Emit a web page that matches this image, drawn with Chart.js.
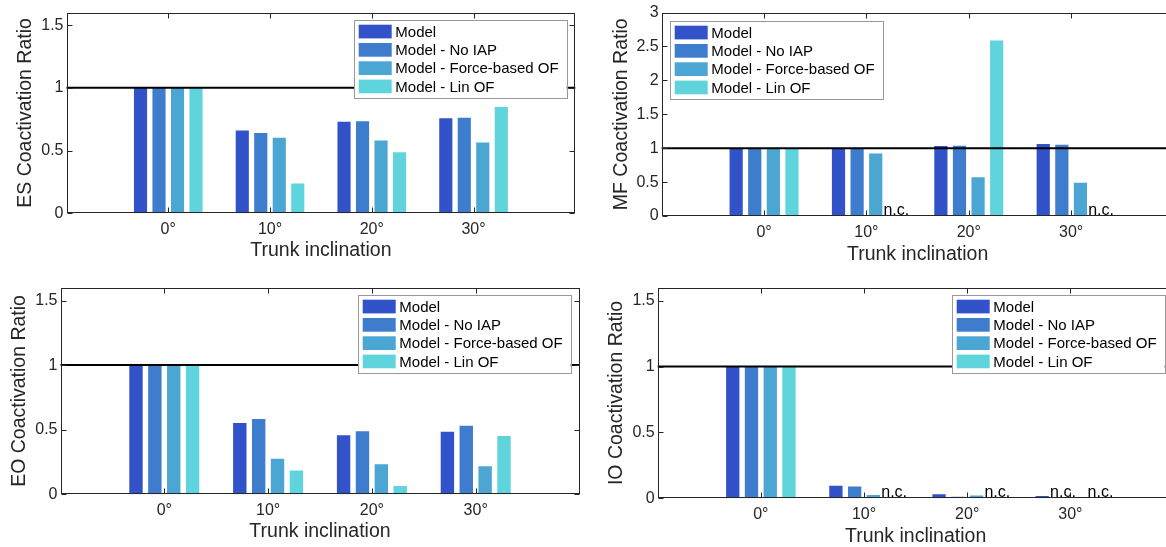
<!DOCTYPE html>
<html>
<head>
<meta charset="utf-8">
<script src="https://cdn.jsdelivr.net/npm/chart.js@4.4.1/dist/chart.umd.min.js"></script>
<style>
  html, body { margin: 0; padding: 0; background: #fff; overflow: hidden; width: 1166px; height: 547px; }
  canvas { position: absolute; }
</style>
</head>
<body>
<canvas id="esChart" width="590" height="275" style="left:0;top:0"></canvas>
<canvas id="mfChart" width="590" height="275" style="left:590px;top:0"></canvas>
<canvas id="eoChart" width="590" height="275" style="left:0;top:275px"></canvas>
<canvas id="ioChart" width="590" height="275" style="left:590px;top:275px"></canvas>
<script>
// categories and series
const categories = ['0°', '10°', '20°', '30°'];
const seriesNames = ['Model', 'Model - No IAP', 'Model - Force-based OF', 'Model - Lin OF'];
const seriesColors = ['#3152c8', '#3e7ccd', '#4ba6d3', '#5fd4dc'];

// null = not converged, shown as "n.c."
const esModel = [1, 0.66, 0.73, 0.757];
const esNoIAP = [1, 0.641, 0.733, 0.762];
const esForce = [1, 0.602, 0.581, 0.565];
const esLin   = [1, 0.238, 0.487, 0.848];

const mfModel = [1, 1.0, 1.034, 1.062];
const mfNoIAP = [1, 1.0, 1.035, 1.05];
const mfForce = [1, 0.92, 0.57, 0.492];
const mfLin   = [1, null, 2.59, null];

const eoModel = [1, 0.551, 0.457, 0.484];
const eoNoIAP = [1, 0.582, 0.489, 0.53];
const eoForce = [1, 0.275, 0.232, 0.217];
const eoLin   = [1, 0.184, 0.065, 0.452];

const ioModel = [1, 0.095, 0.03, 0.017];
const ioNoIAP = [1, 0.09, 0.012, null];
const ioForce = [1, 0.025, 0.022, 0.005];
const ioLin   = [1, null, null, null];

// tick labels
const ratioTicks = [0, 0.5, 1, 1.5];
const mfTicks = [0, 0.5, 1, 1.5, 2, 2.5, 3];
const refLine = 1;

const fontFamily = "'Liberation Sans', Arial, Helvetica, sans-serif";
const axisColor = '#262626';

// box, inward ticks, reference line and n.c. labels
const framePlugin = {
  id: 'frame',
  afterDatasetsDraw(chart) {
    const { ctx, chartArea: a, scales: { x, y } } = chart;
    ctx.save();

    const yr = y.getPixelForValue(refLine);
    ctx.strokeStyle = '#000';
    ctx.lineWidth = 2;
    ctx.beginPath();
    ctx.moveTo(a.left, yr);
    ctx.lineTo(a.right, yr);
    ctx.stroke();

    ctx.fillStyle = '#000';
    ctx.font = '16px ' + fontFamily;
    ctx.textAlign = 'center';
    ctx.textBaseline = 'alphabetic';
    const y0 = y.getPixelForValue(0);
    chart.data.datasets.forEach((d, i) => {
      const meta = chart.getDatasetMeta(i);
      d.data.forEach((v, j) => {
        if (v === null && j > 0 && j < d.data.length - 1) {
          ctx.fillText('n.c.', meta.data[j].x + 2, y0 - 1);
        }
      });
    });

    const L = Math.round(a.left) + 0.5, R = Math.round(a.right) - 0.5;
    const T = Math.round(a.top) + 0.5, B = Math.round(a.bottom) - 0.5;
    ctx.strokeStyle = axisColor;
    ctx.lineWidth = 1;
    ctx.strokeRect(L, T, R - L, B - T);
    ctx.beginPath();
    for (let k = 1; k <= categories.length; k++) {
      const px = Math.round(x.getPixelForValue(k)) + 0.5;
      ctx.moveTo(px, B); ctx.lineTo(px, B - 5);
      ctx.moveTo(px, T); ctx.lineTo(px, T + 5);
    }
    y.ticks.forEach(t => {
      const py = Math.round(y.getPixelForValue(t.value)) + 0.5;
      ctx.moveTo(L, py); ctx.lineTo(L + 5, py);
      ctx.moveTo(R, py); ctx.lineTo(R - 5, py);
    });
    ctx.stroke();
    ctx.restore();
  }
};

// legend box inside the axes
const legendPlugin = {
  id: 'boxLegend',
  afterDraw(chart, args, o) {
    const { ctx, chartArea: a } = chart;
    ctx.save();
    ctx.font = '15px ' + fontFamily;
    const names = chart.data.datasets.map(d => d.label);
    const textW = Math.max(...names.map(n => ctx.measureText(n).width));
    const rowH = 18.3, sw = 33, sh = 13.7;
    const w = 4.7 + sw + 3.6 + textW + 8;
    const h = 4.7 + rowH * (names.length - 1) + sh + 4.6;
    const x0 = Math.round(o.side === 'right' ? a.right - o.dx - w : a.left + o.dx);
    const y0 = Math.round(a.top + o.dy);
    ctx.fillStyle = '#fff';
    ctx.fillRect(x0, y0, w, h);
    ctx.strokeStyle = '#999';
    ctx.lineWidth = 1;
    ctx.strokeRect(x0 + 0.5, y0 + 0.5, Math.round(w), Math.round(h));
    ctx.textBaseline = 'middle';
    ctx.textAlign = 'left';
    chart.data.datasets.forEach((d, i) => {
      const yy = y0 + 4.7 + i * rowH;
      ctx.fillStyle = d.backgroundColor;
      ctx.fillRect(x0 + 4.7, yy, sw, sh);
      ctx.fillStyle = '#000';
      ctx.fillText(d.label, x0 + 4.7 + sw + 3.6, yy + sh / 2 + 1);
    });
    ctx.restore();
  }
};

function makePanel(id, p) {
  const canvas = document.getElementById(id);
  const W = canvas.width, H = canvas.height;
  const a = p.area;
  return new Chart(canvas, {
    type: 'bar',
    data: {
      labels: ['', ...categories, ''],
      datasets: p.series.map((vals, i) => ({
        label: seriesNames[i],
        data: [null, ...vals, null],
        backgroundColor: seriesColors[i],
        borderWidth: 0,
        categoryPercentage: 0.727,
        barPercentage: 0.71
      }))
    },
    options: {
      responsive: false,
      animation: false,
      devicePixelRatio: 1,
      layout: { padding: { left: 0, top: a.t, right: W - a.r, bottom: 0 } },
      plugins: {
        legend: { display: false },
        tooltip: { enabled: false },
        boxLegend: p.legend
      },
      scales: {
        x: {
          type: 'category',
          offset: false,
          grid: { display: false, drawTicks: false },
          border: { display: false },
          ticks: { autoSkip: false, maxRotation: 0, padding: 6.5, color: axisColor,
                   font: { family: fontFamily, size: 16 } },
          title: { display: true, text: 'Trunk inclination', color: axisColor,
                   font: { family: fontFamily, size: 19.5, lineHeight: 1.2 },
                   padding: { top: 0, bottom: H - p.xTitleY - 11.7 } },
          afterFit: s => { s.height = H - a.b; }
        },
        y: {
          min: 0,
          max: p.yMax,
          grid: { display: false, drawTicks: false },
          border: { display: false },
          afterBuildTicks: s => { s.ticks = p.yTicks.map(v => ({ value: v })); },
          ticks: { padding: 3, color: axisColor, font: { family: fontFamily, size: 16 },
                   callback: v => String(v) },
          title: { display: true, text: p.yTitle, color: axisColor,
                   font: { family: fontFamily, size: 19.5, lineHeight: 1.2 },
                   padding: { top: p.yTitleX - 11.7, bottom: 0 } },
          afterFit: s => { s.width = a.l; }
        }
      }
    },
    plugins: [framePlugin, legendPlugin]
  });
}

makePanel('esChart', {
  series: [esModel, esNoIAP, esForce, esLin],
  yTitle: 'ES Coactivation Ratio', yMax: 1.6, yTicks: ratioTicks,
  area: { l: 66.5, t: 9.3, r: 575.3, b: 213.3 },
  yTitleX: 25.3, xTitleY: 250.5,
  legend: { side: 'right', dx: 8.6, dy: 7 }
});

makePanel('mfChart', {
  series: [mfModel, mfNoIAP, mfForce, mfLin],
  yTitle: 'MF Coactivation Ratio', yMax: 3, yTicks: mfTicks,
  area: { l: 71.7, t: 10.7, r: 584.7, b: 216 },
  yTitleX: 31.3, xTitleY: 255,
  legend: { side: 'left', dx: 8.6, dy: 8 }
});

makePanel('eoChart', {
  series: [eoModel, eoNoIAP, eoForce, eoLin],
  yTitle: 'EO Coactivation Ratio', yMax: 1.6, yTicks: ratioTicks,
  area: { l: 60.5, t: 10.7, r: 579.5, b: 219.3 },
  yTitleX: 19.2, xTitleY: 256.6,
  legend: { side: 'right', dx: 8.5, dy: 7 }
});

makePanel('ioChart', {
  series: [ioModel, ioNoIAP, ioForce, ioLin],
  yTitle: 'IO Coactivation Ratio', yMax: 1.6, yTicks: ratioTicks,
  area: { l: 67.7, t: 10.7, r: 586, b: 223.3 },
  yTitleX: 26.7, xTitleY: 262,
  legend: { side: 'right', dx: 8.5, dy: 7.3 }
});
</script>
</body>
</html>
